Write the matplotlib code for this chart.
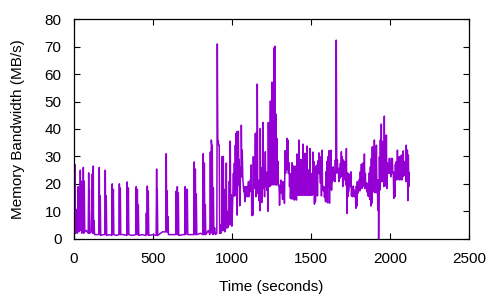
import matplotlib
matplotlib.use("Agg")
import matplotlib.pyplot as plt

plt.rcParams['font.family'] = ['Liberation Sans', 'DejaVu Sans']

# ---- data: (time in seconds, memory bandwidth in MB/s) ----
seg_a_time = [0, 3, 6, 9, 14, 17, 20, 24, 27, 30,
              37, 40, 43, 46, 49, 56, 59, 62, 65, 68,
              78, 90, 93, 95, 97, 100, 110, 116, 119, 122,
              124, 127, 130, 145, 157, 160, 163, 166, 169, 185,
              195, 198, 201, 204, 207, 225, 239, 242, 245, 249,
              252, 270, 284, 287, 290, 293, 296, 315, 334, 337,
              340, 344, 347, 370, 391, 394, 397, 401, 404, 407,
              410, 430, 455, 458, 461, 464, 467, 470, 473, 500,
              520, 523, 525, 527, 530, 560, 581, 584, 587, 590,
              592, 595, 598, 620, 644, 647, 650, 654, 657, 660,
              663, 690, 701, 704, 707, 711, 714, 717, 720, 740,
              758, 761, 764, 768, 771, 774, 777, 800, 815, 818,
              821, 825, 828, 831, 834, 850, 860, 863, 866, 869,
              872, 875, 879, 882, 885, 890, 895, 904, 907, 910,
              913, 916, 919, 922, 926, 930, 935, 938, 941, 945,
              948, 951, 954, 961, 964, 967, 970, 973, 980, 983,
              986, 989, 992, 995, 998]
seg_a_bw = [2.5, 2.0, 27.0, 2.0, 3.0, 10.7, 2.0, 3.0, 19.0, 2.5,
            3.0, 25.0, 3.0, 21.0, 2.0, 3.5, 26.0, 2.0, 21.0, 2.5,
            3.0, 2.0, 24.0, 2.0, 18.0, 2.0, 2.5, 23.6, 2.0, 26.5,
            2.0, 6.6, 1.5, 1.5, 1.5, 26.0, 1.5, 15.6, 1.2, 1.5,
            1.5, 25.0, 1.5, 15.6, 1.2, 1.5, 1.2, 20.0, 1.5, 18.0,
            1.5, 1.2, 1.5, 20.0, 1.5, 18.5, 1.5, 1.5, 1.2, 20.7,
            1.5, 18.5, 1.5, 1.2, 1.5, 19.0, 1.5, 18.0, 1.5, 12.3,
            1.2, 1.5, 1.2, 9.4, 1.5, 19.2, 1.5, 17.4, 1.2, 1.5,
            1.2, 25.4, 1.5, 18.0, 1.2, 2.5, 2.5, 31.0, 2.5, 17.4,
            2.5, 8.0, 1.5, 1.5, 1.5, 17.4, 1.5, 19.0, 1.5, 16.7,
            1.2, 1.5, 1.5, 19.0, 1.5, 18.0, 17.5, 18.0, 1.5, 1.5,
            1.5, 28.0, 1.5, 25.4, 1.5, 16.3, 1.5, 2.0, 1.5, 31.0,
            1.5, 27.6, 1.5, 12.3, 1.5, 3.0, 1.5, 31.6, 2.0, 36.0,
            34.0, 34.0, 1.5, 18.5, 2.0, 4.0, 1.5, 2.0, 71.0, 35.6,
            35.6, 34.0, 34.0, 2.0, 5.0, 2.0, 3.0, 30.0, 3.0, 30.0,
            3.0, 18.0, 2.5, 4.0, 27.6, 4.0, 10.0, 4.0, 6.0, 21.0,
            5.0, 35.6, 6.0, 16.0, 4.6]

seg_b_time = [1000, 1009, 1012, 1015, 1018, 1021, 1024, 1025, 1028, 1030,
              1033, 1036, 1039, 1040, 1043, 1046, 1049, 1055, 1058, 1059,
              1062, 1065, 1068, 1072, 1075, 1078, 1081, 1084, 1087, 1093,
              1096, 1103, 1106, 1110, 1113, 1116, 1119, 1122, 1125, 1129,
              1132, 1135, 1138, 1141, 1144, 1148, 1151, 1156, 1159, 1160,
              1163, 1167, 1170, 1173, 1176, 1179, 1182, 1186, 1189, 1192,
              1195, 1196, 1199, 1203, 1206, 1211, 1214, 1217, 1220, 1224,
              1227, 1230, 1233, 1236, 1239, 1243, 1246, 1249, 1252, 1253,
              1256, 1260, 1263, 1266, 1269, 1272, 1275, 1279, 1282, 1285,
              1288, 1291, 1294, 1298, 1301, 1304, 1307, 1310, 1313, 1317,
              1320, 1323, 1326, 1329, 1332]
seg_b_bw = [4.6, 23.8, 15.6, 27.5, 15.6, 34.1, 19.0, 38.4, 22.6, 39.0,
            8.6, 32.1, 19.6, 39.2, 22.6, 28.9, 12.0, 26.2, 22.6, 41.4,
            22.6, 32.3, 22.6, 19.0, 17.1, 19.0, 13.5, 19.0, 15.3, 19.0,
            15.3, 20.8, 15.3, 19.0, 17.1, 21.4, 17.7, 26.9, 8.4, 17.7,
            8.6, 29.9, 18.3, 20.2, 18.3, 38.4, 15.3, 39.0, 17.7, 56.4,
            16.5, 19.0, 13.9, 21.4, 10.2, 40.2, 17.7, 22.6, 13.2, 26.0,
            19.0, 42.4, 18.3, 23.8, 15.3, 31.7, 19.0, 23.8, 17.7, 24.4,
            10.0, 42.4, 19.0, 22.6, 19.0, 50.2, 19.6, 31.7, 19.6, 57.1,
            20.2, 53.6, 19.6, 69.6, 20.2, 70.2, 19.6, 45.4, 19.6, 36.5,
            20.8, 28.2, 19.2, 19.0, 12.2, 19.6, 17.1, 21.4, 16.5, 19.0,
            14.3, 20.8, 17.0, 19.0, 12.9]

seg_c_time = [1336, 1339, 1342, 1345, 1348, 1351, 1354, 1357, 1361, 1364,
              1367, 1370, 1373, 1376, 1380, 1383, 1386, 1389, 1392, 1395,
              1399, 1402, 1405, 1408, 1411, 1414, 1421, 1424, 1427, 1434,
              1437, 1440, 1446, 1449, 1452, 1459, 1462, 1465, 1472, 1475,
              1478, 1481, 1484, 1487, 1490, 1494, 1497, 1503, 1506, 1509,
              1513, 1516, 1519, 1522, 1525, 1528, 1532, 1535, 1538, 1541,
              1544, 1547, 1551, 1554, 1557, 1560, 1563, 1566, 1570, 1573,
              1576, 1579, 1582, 1585, 1589, 1592, 1595, 1598, 1601, 1604,
              1608, 1611, 1614, 1617, 1620, 1623, 1627, 1630, 1633, 1636,
              1641, 1644, 1648, 1651, 1654, 1657, 1660, 1663, 1667, 1670,
              1673, 1676, 1679, 1682, 1686, 1689, 1692, 1695, 1698, 1701,
              1705, 1708, 1711, 1714, 1717, 1720, 1724, 1727, 1730, 1733,
              1736, 1739]
seg_c_bw = [32.1, 23.8, 31.1, 25.0, 36.6, 26.2, 36.0, 23.8, 27.7, 19.0,
            23.8, 14.7, 21.6, 14.5, 27.7, 14.7, 26.6, 14.3, 22.8, 14.1,
            26.5, 14.3, 22.8, 14.1, 30.9, 15.9, 15.9, 36.0, 15.9, 15.9,
            28.9, 15.9, 15.9, 34.5, 15.9, 15.9, 31.1, 15.9, 15.9, 33.8,
            15.9, 25.0, 15.9, 25.0, 15.9, 32.9, 15.9, 15.9, 23.8, 15.9,
            31.6, 16.5, 28.1, 12.6, 26.5, 13.5, 25.0, 15.9, 26.9, 15.6,
            28.4, 23.8, 31.3, 23.8, 23.8, 20.2, 29.9, 15.6, 32.3, 19.6,
            19.0, 17.4, 19.0, 15.1, 17.7, 13.5, 24.4, 14.3, 28.2, 13.1,
            29.9, 19.0, 32.1, 12.9, 24.0, 20.8, 32.3, 17.7, 24.4, 20.8,
            26.2, 21.4, 24.4, 20.8, 28.7, 23.8, 72.4, 24.4, 28.7, 24.0,
            25.6, 20.8, 25.6, 22.0, 27.5, 22.6, 31.7, 23.8, 29.9, 19.0,
            28.7, 21.4, 28.1, 22.6, 23.8, 19.6, 32.9, 9.2, 24.0, 15.3,
            23.8, 17.1]

seg_d_time = [1747, 1750, 1753, 1756, 1760, 1763, 1768, 1771, 1774, 1777,
              1781, 1784, 1787, 1790, 1793, 1796, 1800, 1803, 1806, 1809,
              1812, 1815, 1819, 1822, 1825, 1828, 1831, 1834, 1838, 1841,
              1844, 1847, 1850, 1853, 1857, 1860, 1863, 1866, 1869, 1872,
              1876, 1879, 1882, 1885, 1888, 1891, 1895, 1898, 1901, 1904,
              1907, 1910, 1914, 1917, 1920, 1923, 1926, 1928, 1933, 1936,
              1939, 1942, 1945, 1948, 1952, 1955, 1958, 1961, 1964, 1967,
              1971, 1974, 1977, 1980, 1983, 1986, 1990, 1993, 1996, 1999,
              2002, 2005, 2009, 2012, 2015, 2018, 2021, 2024, 2028, 2031,
              2034, 2037, 2040, 2043, 2047, 2050, 2053, 2056, 2059, 2062,
              2066, 2069, 2072, 2075, 2078, 2081, 2084, 2087, 2091, 2094,
              2097, 2100, 2103, 2106, 2110, 2113, 2116, 2119, 2122]
seg_d_bw = [23.6, 19.0, 24.4, 15.6, 19.0, 15.3, 19.2, 15.6, 17.7, 15.3,
            16.3, 11.1, 19.2, 11.9, 20.8, 16.5, 19.8, 17.7, 21.6, 17.4,
            24.4, 19.0, 27.2, 18.3, 25.6, 19.0, 27.7, 20.2, 30.9, 18.3,
            23.8, 18.3, 20.4, 17.1, 19.0, 15.6, 20.4, 15.3, 24.0, 14.3,
            26.2, 11.9, 29.3, 12.9, 33.5, 17.1, 30.7, 17.1, 36.0, 16.8,
            23.6, 16.8, 34.1, 16.8, 21.4, 10.4, 21.4, 0.0, 29.9, 17.7,
            36.0, 20.8, 41.8, 20.8, 28.1, 20.8, 35.6, 19.0, 44.7, 22.6,
            28.9, 19.2, 37.8, 18.3, 27.7, 23.8, 27.2, 23.8, 29.3, 23.8,
            27.7, 22.6, 29.3, 23.8, 29.3, 23.8, 23.8, 14.7, 24.4, 15.3,
            27.1, 23.1, 28.1, 21.4, 32.3, 23.8, 26.9, 21.6, 29.9, 21.4,
            29.9, 23.8, 30.5, 21.4, 28.1, 22.6, 32.0, 23.1, 28.1, 23.1,
            27.5, 20.8, 34.1, 23.8, 32.3, 13.9, 30.5, 19.0, 24.1]

x_ticks = [0, 500, 1000, 1500, 2000, 2500]
y_ticks = [0, 10, 20, 30, 40, 50, 60, 70, 80]

time_s = seg_a_time + seg_b_time + seg_c_time + seg_d_time
bandwidth = seg_a_bw + seg_b_bw + seg_c_bw + seg_d_bw

fig = plt.figure(figsize=(5, 3), dpi=100)
ax = fig.add_axes([0.148, 0.2043, 0.79, 0.7314])
ax.plot(time_s, bandwidth, color='#9400D3', linewidth=1.1)

ax.set_xlim(0, 2500)
ax.set_ylim(0, 80)
ax.set_xticks(x_ticks)
ax.set_yticks(y_ticks)
ax.tick_params(direction='in', length=4.5, width=0.8, top=True, right=True,
               labelsize=11, colors='black')
ax.tick_params(axis='x', pad=9.5)
ax.tick_params(axis='y', pad=9)
for sp in ax.spines.values():
    sp.set_linewidth(0.9)
ax.set_xlabel('Time (seconds)', fontsize=11, labelpad=10)
ax.set_ylabel('Memory Bandwidth (MB/s)', fontsize=11, labelpad=14)

fig.savefig('out.png', dpi=100)
